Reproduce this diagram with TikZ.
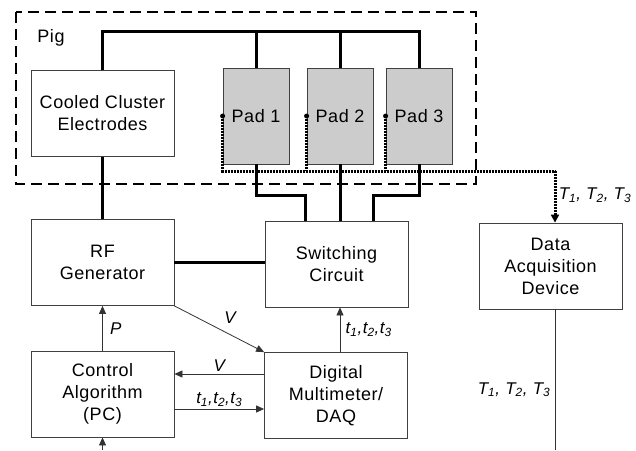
\documentclass[tikz,border=0pt]{standalone}
\usepackage{fontspec}
\setmainfont{Liberation Sans}[LetterSpace=3]
\usetikzlibrary{arrows.meta,positioning}
\begin{document}
\begin{tikzpicture}[x=1pt,y=-1pt,
every node/.style={font=\fontsize{18}{22}\selectfont},
box/.style={rectangle,draw=black!75,line width=0.8pt,align=center,
  minimum width=143pt,minimum height=86pt,inner sep=0pt},
pad/.style={box,fill=black!20,minimum width=66pt,minimum height=96pt},
bus/.style={line width=3pt},
sig/.style={draw=black!80,line width=0.8pt,-{Triangle[width=7pt,length=8pt]}},
thermo/.style={line width=3pt,dash pattern=on 2pt off 1pt},
lbl/.style={font=\itshape\fontsize{17}{20}\selectfont}]
\useasboundingbox (0,0) rectangle (636,450);
\draw[line width=2.5pt,dash pattern=on 11pt off 6pt] (16,12) rectangle (476,184);
\node (pig) at (51,38) {Pig};
\node[box] (CCE) at (102.5,113.5) {Cooled Cluster\\Electrodes};
\node[pad] (Pad1) at (256,116) {Pad 1};
\node[pad] (Pad2) at (340,116) {Pad 2};
\node[pad] (Pad3) at (419,116) {Pad 3};
\node[box] (RF) at (102.5,262.5) {RF\\Generator};
\node[box] (SW) at (336.5,264) {Switching\\Circuit};
\node[box] (CA) at (102.5,394) {Control\\Algorithm\\(PC)};
\node[box] (DMM) at (336,395.5) {Digital\\Multimeter/\\DAQ};
\node[box] (DAD) at (550.5,266) {Data\\Acquisition\\Device};
\coordinate (busL) at (102.5,31);
\coordinate (tc) at (555,171);
\coordinate (cin) at (102.5,450);
\coordinate (dout) at (555,450);
\draw[bus] (CCE.north) |- (busL) -| (Pad3.north);
\draw[bus] (Pad1.north) -- (Pad1.north |- busL);
\draw[bus] (Pad2.north) -- (Pad2.north |- busL);
\draw[bus] (CCE.south) -- (RF.north);
\draw[bus] (RF.east) -- (RF.east -| SW.west);
\draw[bus] (Pad1.south) -- ++(0,31) -| ([xshift=-31pt]SW.north);
\draw[bus] (Pad2.south) -- (Pad2.south |- SW.north);
\draw[bus] (Pad3.south) -- ++(0,31) -| ([xshift=37pt]SW.north);
\draw[thermo] (Pad1.west) |- (tc);
\draw[thermo] (Pad2.west) -- (Pad2.west |- tc);
\draw[thermo] (Pad3.west) -- (Pad3.west |- tc);
\draw[thermo,-{Triangle[width=8pt,length=8pt]}] (tc) -- (tc |- DAD.north);
\fill (Pad1.west) circle (2.5pt);
\fill (Pad2.west) circle (2.5pt);
\fill (Pad3.west) circle (2.5pt);
\node[lbl] (tT) at (595,195) {T\textsubscript{1}, T\textsubscript{2}, T\textsubscript{3}};
\draw[sig] (CA.north) -- (RF.south) node[lbl,midway,right=4pt] {P};
\draw[sig] (RF.south east) -- (DMM.north west) node[lbl,midway,above right=2pt] {V};
\draw[sig] ([yshift=21.5pt]DMM.west) -- ([yshift=21.5pt]DMM.west -| CA.east)
  node[lbl,midway,above=-1pt] {V};
\draw[sig] ([yshift=-15pt]CA.east) -- ([yshift=-15pt]CA.east -| DMM.west)
  node[lbl,midway,above=-1pt] {t\textsubscript{1},t\textsubscript{2},t\textsubscript{3}};
\draw[sig] ([xshift=4pt]DMM.north) -- ([xshift=4pt]DMM.north |- SW.south)
  node[lbl,midway,right=2pt] {t\textsubscript{1},t\textsubscript{2},t\textsubscript{3}};
\draw[sig] (cin) -- (CA.south);
\draw[draw=black!80,line width=0.8pt] (tc |- DAD.south) -- (dout)
  node[lbl,pos=0.57,left=1pt] {T\textsubscript{1}, T\textsubscript{2}, T\textsubscript{3}};
\end{tikzpicture}
\end{document}
